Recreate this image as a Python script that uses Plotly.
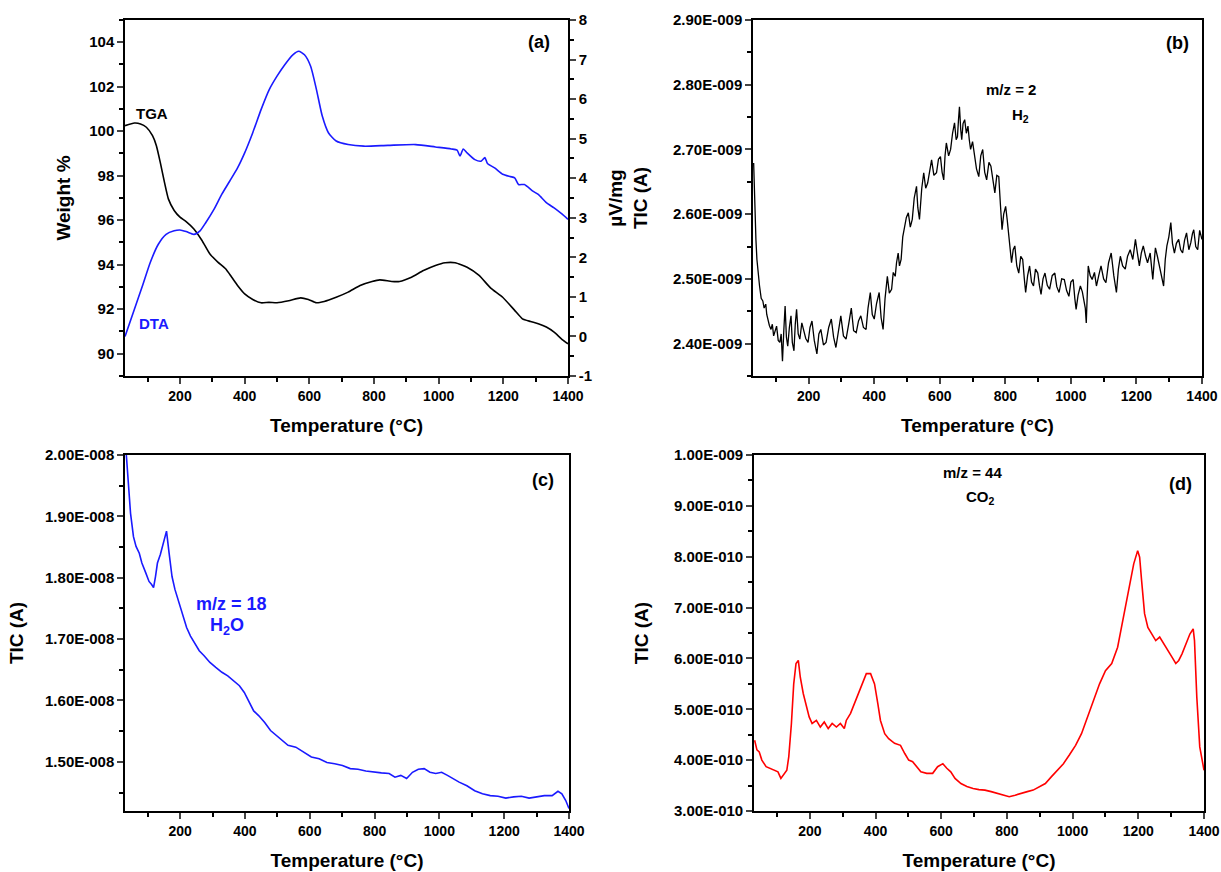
import plotly.graph_objects as go

# ---------------- data ----------------
# (a) TGA (weight %) and DTA (uV/mg)
tga_T = [30, 59, 78, 96, 115, 127, 139, 152, 164, 182, 200, 219, 243, 268, 292, 317, 341, 360, 378, 400,
         425, 451, 475, 500, 536, 573, 597, 622, 646, 683, 720, 757, 794, 818, 855, 879, 916, 953, 990, 1020,
         1051, 1088, 1125, 1161, 1198, 1235, 1259, 1284, 1308, 1333, 1357, 1382, 1400]
tga_W = [100.25, 100.37, 100.33, 100.18, 99.8, 99.35, 98.6, 97.7, 96.96, 96.44, 96.14, 95.94, 95.61, 95.09, 94.49, 94.12, 93.82, 93.44, 93.07, 92.69,
         92.44, 92.29, 92.31, 92.29, 92.38, 92.51, 92.44, 92.29, 92.35, 92.54, 92.77, 93.07, 93.25, 93.32, 93.25, 93.25, 93.44, 93.74, 93.97, 94.09,
         94.09, 93.89, 93.52, 92.95, 92.54, 91.95, 91.57, 91.45, 91.35, 91.2, 90.97, 90.64, 90.45]

dta_T = [30, 59, 84, 108, 133, 157, 182, 200, 219, 243, 262, 280, 305, 329, 354, 378, 400, 425, 451, 476,
         500, 524, 549, 567, 585, 604, 622, 640, 659, 683, 720, 769, 843, 929, 990, 1039, 1057, 1066, 1076, 1088,
         1112, 1131, 1143, 1151, 1173, 1198, 1222, 1235, 1247, 1265, 1290, 1308, 1333, 1357, 1382, 1400]
dta_V = [0.0, 0.69, 1.28, 1.87, 2.33, 2.58, 2.67, 2.69, 2.65, 2.58, 2.67, 2.88, 3.21, 3.59, 3.93, 4.26, 4.64, 5.15, 5.74, 6.24,
         6.58, 6.87, 7.12, 7.21, 7.12, 6.83, 6.24, 5.57, 5.15, 4.94, 4.85, 4.81, 4.83, 4.85, 4.79, 4.74, 4.71, 4.56, 4.74, 4.64,
         4.47, 4.43, 4.52, 4.37, 4.26, 4.10, 4.04, 4.01, 3.84, 3.84, 3.68, 3.59, 3.38, 3.25, 3.09, 2.96]

# (b) m/z = 2, H2 (in 1e-9 A)
h2_T = [32, 34, 36, 39, 42, 46, 50, 55, 60, 64, 69, 72, 75, 80, 85, 89, 93, 98, 102, 107,
        112, 116, 120, 124, 128, 132, 136, 141, 146, 150, 155, 159, 163, 168, 173, 179, 185, 191, 198, 204,
        210, 217, 225, 231, 237, 245, 253, 261, 269, 276, 283, 290, 298, 306, 314, 322, 330, 337, 345, 352,
        359, 367, 375, 381, 388, 394, 400, 407, 415, 421, 427, 433, 440, 446, 453, 458, 464, 468, 473, 477,
        482, 487, 492, 498, 504, 510, 516, 522, 529, 533, 538, 545, 551, 557, 563, 569, 575, 582, 590, 596,
        602, 607, 612, 616, 620, 627, 633, 639, 645, 650, 654, 657, 660, 664, 667, 671, 676, 681, 686, 690,
        694, 700, 706, 712, 719, 725, 731, 737, 743, 750, 756, 762, 768, 774, 780, 785, 790, 795, 801, 806,
        810, 815, 819, 824, 829, 835, 841, 847, 853, 858, 862, 868, 874, 880, 886, 892, 899, 904, 909, 915,
        921, 928, 935, 943, 951, 957, 964, 972, 980, 987, 994, 1000, 1007, 1012, 1016, 1022, 1029, 1035, 1040, 1044,
        1047, 1050, 1053, 1059, 1065, 1072, 1078, 1085, 1092, 1100, 1107, 1115, 1123, 1131, 1139, 1145, 1151, 1158, 1166, 1173,
        1181, 1189, 1197, 1203, 1209, 1215, 1221, 1228, 1234, 1242, 1250, 1254, 1258, 1264, 1270, 1277, 1283, 1288, 1293, 1299,
        1305, 1310, 1316, 1322, 1329, 1335, 1341, 1347, 1353, 1360, 1366, 1371, 1375, 1381, 1387, 1393, 1400]
h2_V = [2.679, 2.640, 2.597, 2.560, 2.530, 2.505, 2.489, 2.470, 2.466, 2.455, 2.461, 2.445, 2.438, 2.428, 2.422, 2.430, 2.412, 2.420, 2.427, 2.405,
        2.402, 2.415, 2.373, 2.420, 2.458, 2.410, 2.396, 2.425, 2.443, 2.402, 2.389, 2.430, 2.453, 2.415, 2.407, 2.432, 2.422, 2.408, 2.402, 2.425,
        2.435, 2.405, 2.384, 2.415, 2.422, 2.398, 2.402, 2.425, 2.438, 2.410, 2.394, 2.420, 2.443, 2.412, 2.407, 2.430, 2.455, 2.420, 2.417, 2.435,
        2.443, 2.425, 2.422, 2.455, 2.479, 2.445, 2.438, 2.462, 2.479, 2.440, 2.422, 2.470, 2.504, 2.478, 2.484, 2.510, 2.504, 2.525, 2.540, 2.520,
        2.530, 2.565, 2.581, 2.595, 2.602, 2.580, 2.592, 2.625, 2.643, 2.610, 2.592, 2.640, 2.664, 2.640, 2.648, 2.670, 2.684, 2.660, 2.664, 2.685,
        2.689, 2.665, 2.653, 2.690, 2.710, 2.690, 2.700, 2.725, 2.741, 2.715, 2.720, 2.745, 2.766, 2.730, 2.715, 2.740, 2.746, 2.725, 2.736, 2.715,
        2.700, 2.712, 2.689, 2.670, 2.658, 2.690, 2.700, 2.665, 2.653, 2.680, 2.674, 2.650, 2.633, 2.660, 2.658, 2.615, 2.576, 2.600, 2.612, 2.590,
        2.571, 2.550, 2.525, 2.545, 2.551, 2.520, 2.509, 2.535, 2.530, 2.500, 2.479, 2.505, 2.520, 2.495, 2.489, 2.515, 2.509, 2.490, 2.476, 2.500,
        2.509, 2.490, 2.484, 2.505, 2.509, 2.488, 2.479, 2.500, 2.499, 2.482, 2.473, 2.495, 2.499, 2.470, 2.453, 2.475, 2.489, 2.480, 2.468, 2.455,
        2.432, 2.490, 2.520, 2.505, 2.499, 2.510, 2.489, 2.505, 2.520, 2.500, 2.494, 2.525, 2.540, 2.505, 2.479, 2.515, 2.535, 2.520, 2.515, 2.535,
        2.545, 2.530, 2.561, 2.540, 2.520, 2.540, 2.551, 2.535, 2.525, 2.540, 2.499, 2.525, 2.548, 2.535, 2.520, 2.505, 2.489, 2.530, 2.551, 2.565,
        2.587, 2.555, 2.540, 2.555, 2.561, 2.545, 2.540, 2.560, 2.571, 2.545, 2.556, 2.570, 2.576, 2.550, 2.545, 2.575, 2.561]

# (c) m/z = 18, H2O (in 1e-8 A)
h2o_T = [34, 40, 47, 56, 64, 74, 82, 94, 104, 112, 118, 124, 130, 139, 148, 158, 166, 175, 184, 196,
         208, 220, 232, 244, 259, 274, 292, 310, 329, 347, 365, 383, 398, 413, 427, 443, 461, 479, 497, 515,
         533, 557, 581, 605, 629, 653, 677, 701, 725, 749, 773, 797, 821, 845, 863, 881, 899, 917, 935, 953,
         971, 989, 1007, 1025, 1043, 1061, 1085, 1109, 1133, 1157, 1181, 1205, 1229, 1253, 1277, 1300, 1324, 1348, 1366, 1378,
         1390, 1400]
h2o_V = [2.000, 1.949, 1.905, 1.867, 1.851, 1.840, 1.824, 1.808, 1.794, 1.789, 1.784, 1.802, 1.824, 1.838, 1.854, 1.876, 1.840, 1.802, 1.781, 1.759,
         1.738, 1.719, 1.705, 1.694, 1.681, 1.673, 1.662, 1.654, 1.646, 1.640, 1.632, 1.624, 1.613, 1.597, 1.583, 1.575, 1.564, 1.551, 1.543, 1.535,
         1.527, 1.524, 1.516, 1.508, 1.505, 1.499, 1.497, 1.494, 1.489, 1.488, 1.485, 1.483, 1.482, 1.481, 1.475, 1.478, 1.473, 1.483, 1.488, 1.489,
         1.483, 1.481, 1.483, 1.478, 1.472, 1.467, 1.461, 1.453, 1.448, 1.445, 1.444, 1.441, 1.443, 1.444, 1.441, 1.443, 1.445, 1.445, 1.452, 1.448,
         1.437, 1.424]

# (d) m/z = 44, CO2 (in 1e-10 A)
co2_T = [32, 39, 46, 54, 67, 79, 91, 103, 112, 122, 130, 136, 144, 151, 158, 165, 171, 180, 189, 198,
         207, 220, 232, 244, 256, 268, 281, 293, 305, 311, 324, 336, 348, 360, 372, 385, 397, 407, 415, 428,
         440, 458, 476, 489, 501, 513, 525, 538, 556, 574, 589, 605, 617, 629, 642, 660, 678, 697, 715, 733,
         752, 770, 788, 807, 825, 843, 862, 880, 898, 917, 935, 954, 972, 990, 1009, 1027, 1045, 1064, 1082, 1100,
         1119, 1137, 1149, 1161, 1173, 1186, 1198, 1204, 1210, 1219, 1229, 1241, 1253, 1265, 1278, 1290, 1302, 1314, 1323, 1333,
         1345, 1357, 1367, 1371, 1378, 1387, 1400]
co2_V = [4.39, 4.20, 4.16, 4.00, 3.87, 3.84, 3.80, 3.77, 3.64, 3.74, 3.80, 4.07, 4.72, 5.50, 5.90, 5.96, 5.63, 5.31, 5.05, 4.85,
         4.72, 4.78, 4.65, 4.75, 4.62, 4.72, 4.65, 4.72, 4.62, 4.78, 4.92, 5.11, 5.31, 5.50, 5.70, 5.70, 5.50, 5.11, 4.78, 4.52,
         4.42, 4.33, 4.29, 4.13, 4.00, 3.97, 3.87, 3.77, 3.74, 3.74, 3.87, 3.93, 3.84, 3.77, 3.64, 3.54, 3.48, 3.44, 3.42, 3.41,
         3.38, 3.35, 3.31, 3.28, 3.31, 3.35, 3.38, 3.41, 3.48, 3.54, 3.67, 3.80, 3.93, 4.10, 4.29, 4.52, 4.85, 5.18, 5.50, 5.76,
         5.90, 6.22, 6.61, 7.01, 7.40, 7.86, 8.12, 7.99, 7.53, 6.88, 6.61, 6.48, 6.35, 6.42, 6.29, 6.16, 6.03, 5.90, 5.96, 6.09,
         6.29, 6.48, 6.58, 6.35, 5.24, 4.26, 3.80]

x_ticks = [200, 400, 600, 800, 1000, 1200, 1400]
h2_ticks = [2.40e-9, 2.50e-9, 2.60e-9, 2.70e-9, 2.80e-9, 2.90e-9]
h2_labels = ["2.40E-009", "2.50E-009", "2.60E-009", "2.70E-009", "2.80E-009", "2.90E-009"]
h2o_ticks = [1.50e-8, 1.60e-8, 1.70e-8, 1.80e-8, 1.90e-8, 2.00e-8]
h2o_labels = ["1.50E-008", "1.60E-008", "1.70E-008", "1.80E-008", "1.90E-008", "2.00E-008"]
co2_ticks = [3e-10, 4e-10, 5e-10, 6e-10, 7e-10, 8e-10, 9e-10, 1e-9]
co2_labels = ["3.00E-010", "4.00E-010", "5.00E-010", "6.00E-010", "7.00E-010", "8.00E-010", "9.00E-010", "1.00E-009"]

# ---------------- figure ----------------
FONT = "Liberation Sans, Arial, sans-serif"
BLUE = "#1a1aff"

fig = go.Figure()
fig.add_trace(go.Scatter(x=tga_T, y=tga_W, mode="lines", line=dict(color="black", width=1.6, shape="spline", smoothing=0.5),
                         xaxis="x", yaxis="y", name="TGA", showlegend=False))
fig.add_trace(go.Scatter(x=dta_T, y=dta_V, mode="lines", line=dict(color=BLUE, width=1.6, shape="spline", smoothing=0.6),
                         xaxis="x", yaxis="y5", name="DTA", showlegend=False))
fig.add_trace(go.Scatter(x=h2_T, y=[v * 1e-9 for v in h2_V], mode="lines", line=dict(color="black", width=1.3),
                         xaxis="x2", yaxis="y2", name="H2", showlegend=False))
fig.add_trace(go.Scatter(x=h2o_T, y=[v * 1e-8 for v in h2o_V], mode="lines", line=dict(color=BLUE, width=1.6),
                         xaxis="x3", yaxis="y3", name="H2O", showlegend=False))
fig.add_trace(go.Scatter(x=co2_T, y=[v * 1e-10 for v in co2_V], mode="lines", line=dict(color="#ff0000", width=1.6),
                         xaxis="x4", yaxis="y4", name="CO2", showlegend=False))

xtickfont = dict(family=FONT, size=14, color="black", weight="bold")
ytickfont = dict(family=FONT, size=15, color="black", weight="bold")
titlefont = dict(family=FONT, size=19, color="black", weight="bold")

def xax(domain, anchor):
    return dict(domain=domain, anchor=anchor, range=[30, 1400], tickmode="array", tickvals=x_ticks,
                ticks="outside", ticklen=6, tickwidth=1.5, showline=True, linewidth=1.5, linecolor="black",
                mirror=True, showgrid=False, zeroline=False, tickfont=xtickfont, automargin=False,
                minor=dict(tickmode="array", tickvals=[100, 300, 500, 700, 900, 1100, 1300],
                           ticks="outside", ticklen=4, tickwidth=1.5, tickcolor="black"),
                title=dict(text="Temperature (°C)", font=titlefont, standoff=16))

def yax(domain, anchor, rng, tv, tt, minor_vals, title, standoff, mirror=True):
    return dict(domain=domain, anchor=anchor, range=rng, tickmode="array", tickvals=tv, ticktext=tt,
                ticks="outside", ticklen=6, tickwidth=1.5, showline=True, linewidth=1.5, linecolor="black",
                mirror=mirror, side="left", showgrid=False, zeroline=False, tickfont=ytickfont, automargin=False,
                minor=dict(tickmode="array", tickvals=minor_vals, ticks="outside", ticklen=4,
                           tickwidth=1.5, tickcolor="black"),
                title=dict(text=title, font=titlefont, standoff=standoff))

ya_top = [0.5688, 0.9771]
ya_bot = [0.0700, 0.4782]
xa_a = [0.1024, 0.4652]
xa_b = [0.6167, 0.9844]
xa_c = [0.1024, 0.4660]
xa_d = [0.6175, 0.9861]

w_ticks = [90, 92, 94, 96, 98, 100, 102, 104]
d_ticks = [-1, 0, 1, 2, 3, 4, 5, 6, 7, 8]

layout = dict(
    width=1221, height=872, margin=dict(l=0, r=0, t=0, b=0, autoexpand=False),
    paper_bgcolor="white", plot_bgcolor="white", showlegend=False,
    font=dict(family=FONT, color="black"),
    xaxis=xax(xa_a, "y"),
    yaxis=yax(ya_top, "x", [89, 105], w_ticks, [str(v) for v in w_ticks],
              [89, 91, 93, 95, 97, 99, 101, 103, 105], "Weight %", 14, mirror=False),
    yaxis5=dict(overlaying="y", anchor="x", side="right", range=[-1, 8], tickmode="array",
                tickvals=d_ticks, ticktext=[str(v) for v in d_ticks], ticks="outside", ticklen=6,
                tickwidth=1.5, showline=True, linewidth=1.5, linecolor="black", showgrid=False,
                zeroline=False, tickfont=ytickfont, automargin=False,
                minor=dict(tickmode="array", tickvals=[-0.5, 0.5, 1.5, 2.5, 3.5, 4.5, 5.5, 6.5, 7.5],
                           ticks="outside", ticklen=4, tickwidth=1.5, tickcolor="black"),
                title=dict(text="µV/mg", font=titlefont, standoff=18)),
    xaxis2=xax(xa_b, "y2"),
    yaxis2=yax(ya_top, "x2", [2.35e-9, 2.90e-9], h2_ticks, h2_labels,
               [2.35e-9, 2.45e-9, 2.55e-9, 2.65e-9, 2.75e-9, 2.85e-9], "TIC (A)", 20),
    xaxis3=xax(xa_c, "y3"),
    yaxis3=yax(ya_bot, "x3", [1.42e-8, 2.00e-8], h2o_ticks, h2o_labels,
               [1.45e-8, 1.55e-8, 1.65e-8, 1.75e-8, 1.85e-8, 1.95e-8], "TIC (A)", 16),
    xaxis4=xax(xa_d, "y4"),
    yaxis4=yax(ya_bot, "x4", [3e-10, 1e-9], co2_ticks, co2_labels,
               [3.5e-10, 4.5e-10, 5.5e-10, 6.5e-10, 7.5e-10, 8.5e-10, 9.5e-10], "TIC (A)", 20),
)
fig.update_layout(**layout)

ann_font = dict(family=FONT, size=18, color="black", weight="bold")
small_font = dict(family=FONT, size=15, color="black", weight="bold")
annotations = [
    dict(x=1311, y=104.0, xref="x", yref="y", text="(a)", font=ann_font),
    dict(x=114, y=100.8, xref="x", yref="y", text="TGA", font=small_font),
    dict(x=120, y=91.35, xref="x", yref="y", text="DTA", font=dict(family=FONT, size=15, color=BLUE, weight="bold")),
    dict(x=1325, y=2.864e-9, xref="x2", yref="y2", text="(b)", font=ann_font),
    dict(x=817, y=2.793e-9, xref="x2", yref="y2", text="m/z = 2", font=small_font),
    dict(x=845, y=2.753e-9, xref="x2", yref="y2", text="H<sub>2</sub>", font=small_font),
    dict(x=1320, y=1.959e-8, xref="x3", yref="y3", text="(c)", font=ann_font),
    dict(x=359, y=1.758e-8, xref="x3", yref="y3", text="m/z = 18",
         font=dict(family=FONT, size=18, color=BLUE, weight="bold")),
    dict(x=346, y=1.720e-8, xref="x3", yref="y3", text="H<sub>2</sub>O",
         font=dict(family=FONT, size=18, color=BLUE, weight="bold")),
    dict(x=1329, y=9.42e-10, xref="x4", yref="y4", text="(d)", font=ann_font),
    dict(x=694, y=9.65e-10, xref="x4", yref="y4", text="m/z = 44", font=small_font),
    dict(x=721, y=9.16e-10, xref="x4", yref="y4", text="CO<sub>2</sub>", font=small_font),
]
for a in annotations:
    a["showarrow"] = False
fig.update_layout(annotations=annotations)

# remove the default page margin so the 1221x872 figure fills the window exactly
fig.write_html("out.html", config={"displayModeBar": False},
               post_script="document.body.style.margin='0px';document.body.style.overflow='hidden';")
